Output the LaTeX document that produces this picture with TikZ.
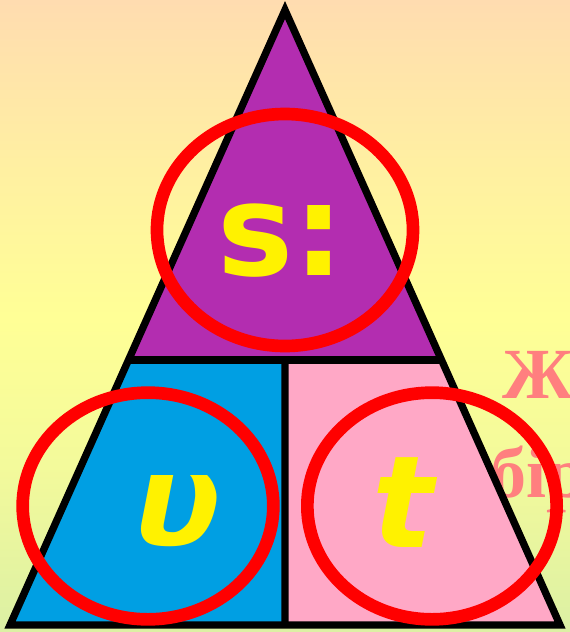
\documentclass[tikz,border=0pt]{standalone}
\usepackage{fontspec}
\setmainfont{Liberation Serif}
\newfontfamily\letterfont{DejaVu Sans}
\usetikzlibrary{shapes.geometric,calc}
\definecolor{peach}{HTML}{FFDCB0}
\definecolor{paleyellow}{HTML}{FFFF96}
\definecolor{palegreen}{HTML}{DCF0A4}
\definecolor{topfill}{HTML}{B32DB0}
\definecolor{leftfill}{HTML}{009FE3}
\definecolor{rightfill}{HTML}{FFA8C6}
\definecolor{salmon}{HTML}{FF7F7F}
\pgfdeclareverticalshading{backdrop}{100bp}{color(0bp)=(palegreen); color(25bp)=(palegreen);
  color(38bp)=(paleyellow!65!palegreen); color(50bp)=(paleyellow);
  color(62bp)=(paleyellow!55!peach); color(75bp)=(peach); color(100bp)=(peach)}
\tikzset{
  outline/.style={draw=black, line width=5.5pt, line join=miter},
  ring/.style={ellipse, draw=red, line width=9.5pt, inner sep=0pt},
  letter/.style={anchor=base, text=yellow, inner sep=0pt,
                 font=\letterfont\bfseries\fontsize{96}{96}\selectfont},
  slanted/.style={letter, font=\letterfont\bfseries\itshape\fontsize{96}{96}\selectfont},
  word/.style={anchor=base west, text=salmon, inner sep=0pt,
               font=\bfseries\fontsize{54}{54}\selectfont}
}

\begin{document}
\begin{tikzpicture}[x=0.75pt, y=-0.75pt]
  \useasboundingbox (0,0) rectangle (570,632);
  \clip (0,0) rectangle (570,632);
  \shade[shading=backdrop] (0,0) rectangle (570,632);

  \coordinate (apex) at (285,10);
  \coordinate (bl) at (10,625);
  \coordinate (br) at (560,625);
  \coordinate (ml) at ($(apex)!0.569!(bl)$);
  \coordinate (mr) at ($(apex)!0.569!(br)$);
  \coordinate (mid) at ($(ml)!0.5!(mr)$);
  \coordinate (bm) at ($(bl)!0.5!(br)$);

  % text on the right, partly hidden
  \node[word] (zh) at (502,398) {Ж};
  \node[word] (bir) at (490,497) {бір};

  % the three parts
  \fill[topfill] (apex) -- (ml) -- (mr) -- cycle;
  \fill[leftfill] (ml) -- (mid) -- (bm) -- (bl) -- cycle;
  \fill[rightfill] (mid) -- (mr) -- (br) -- (bm) -- cycle;
  \draw[outline] (apex) -- (bl) -- (br) -- cycle;
  \draw[outline] (ml) -- (mr);
  \draw[outline] (mid) -- (bm);

  \node[letter] (s) at (281,275) {s:};
  \node[slanted] (v) at (178,545) {υ};
  \node[slanted] (t) at (403,547) {t};

  \node[ring, minimum width=192pt, minimum height=174pt] (ringtop) at (285,230) {};
  \node[ring, minimum width=188pt, minimum height=170pt] (ringleft) at (148,506) {};
  \node[ring, minimum width=187pt, minimum height=170pt] (ringright) at (432,506) {};
\end{tikzpicture}
\end{document}
